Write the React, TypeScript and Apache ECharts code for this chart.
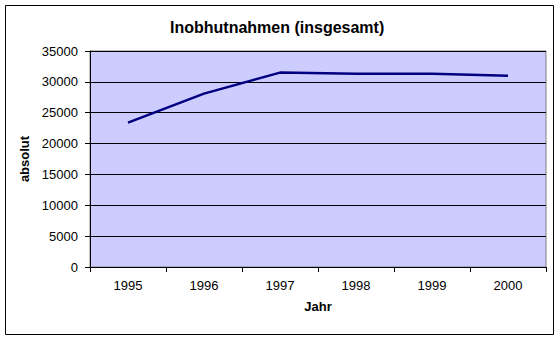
import React, { useEffect, useRef } from "react";
import * as echarts from "echarts";

const categories = ["1995", "1996", "1997", "1998", "1999", "2000"];
const values = [23400, 28100, 31500, 31300, 31300, 31000];
const titleText = "Inobhutnahmen (insgesamt)";
const xName = "Jahr";
const yName = "absolut";

export default function App() {
  const ref = useRef<HTMLDivElement>(null);
  useEffect(() => {
    if (!ref.current) return;
    const chart = echarts.init(ref.current, null, { renderer: "svg" });
    const font = "'Liberation Sans', Arial, sans-serif";
    chart.setOption({
      animation: false,
      backgroundColor: "#ffffff",
      textStyle: { fontFamily: font },
      title: {
        text: titleText,
        left: 170,
        top: 19,
        padding: 0,
        textStyle: { fontFamily: font, fontSize: 16, fontWeight: "bold", color: "#000" },
      },
      graphic: [
        {
          type: "rect",
          shape: { x: 5.5, y: 5.5, width: 548, height: 329 },
          style: { fill: "none", stroke: "#000", lineWidth: 1 },
          z: 100,
        },
      ],
      grid: {
        left: 90,
        top: 51,
        width: 456,
        height: 216,
        show: true,
        backgroundColor: "#ccccff",
        borderColor: "#808080",
        borderWidth: 1,
      },
      xAxis: {
        type: "category",
        data: categories,
        boundaryGap: true,
        name: xName,
        nameLocation: "middle",
        nameGap: 33,
        nameTextStyle: { fontFamily: font, fontSize: 13, fontWeight: "bold", color: "#000" },
        axisLine: { lineStyle: { color: "#000", width: 1 } },
        axisTick: { show: true, length: 5, inside: false, alignWithLabel: false, lineStyle: { color: "#000" } },
        axisLabel: { fontFamily: font, fontSize: 13, color: "#000", margin: 12 },
        splitLine: { show: false },
      },
      yAxis: {
        type: "value",
        min: 0,
        max: 35000,
        interval: 5000,
        name: yName,
        nameLocation: "middle",
        nameGap: 45,
        nameRotate: 90,
        nameTextStyle: { fontFamily: font, fontSize: 13, fontWeight: "bold", color: "#000" },
        axisLine: { show: true, lineStyle: { color: "#000", width: 1 } },
        axisTick: { show: true, length: 5, inside: false, lineStyle: { color: "#000" } },
        axisLabel: {
          fontFamily: font,
          fontSize: 13,
          color: "#000",
          margin: 12,
          formatter: (v: number) => String(v),
        },
        splitLine: { show: true, lineStyle: { color: "#000", width: 1 } },
      },
      series: [
        {
          type: "line",
          data: values,
          symbol: "none",
          lineStyle: { color: "#000080", width: 2.5 },
          itemStyle: { color: "#000080" },
        },
      ],
    });
    return () => chart.dispose();
  }, []);
  return (
    <div
      ref={ref}
      style={{ position: "fixed", left: 0, top: 0, width: 560, height: 341 }}
    />
  );
}
